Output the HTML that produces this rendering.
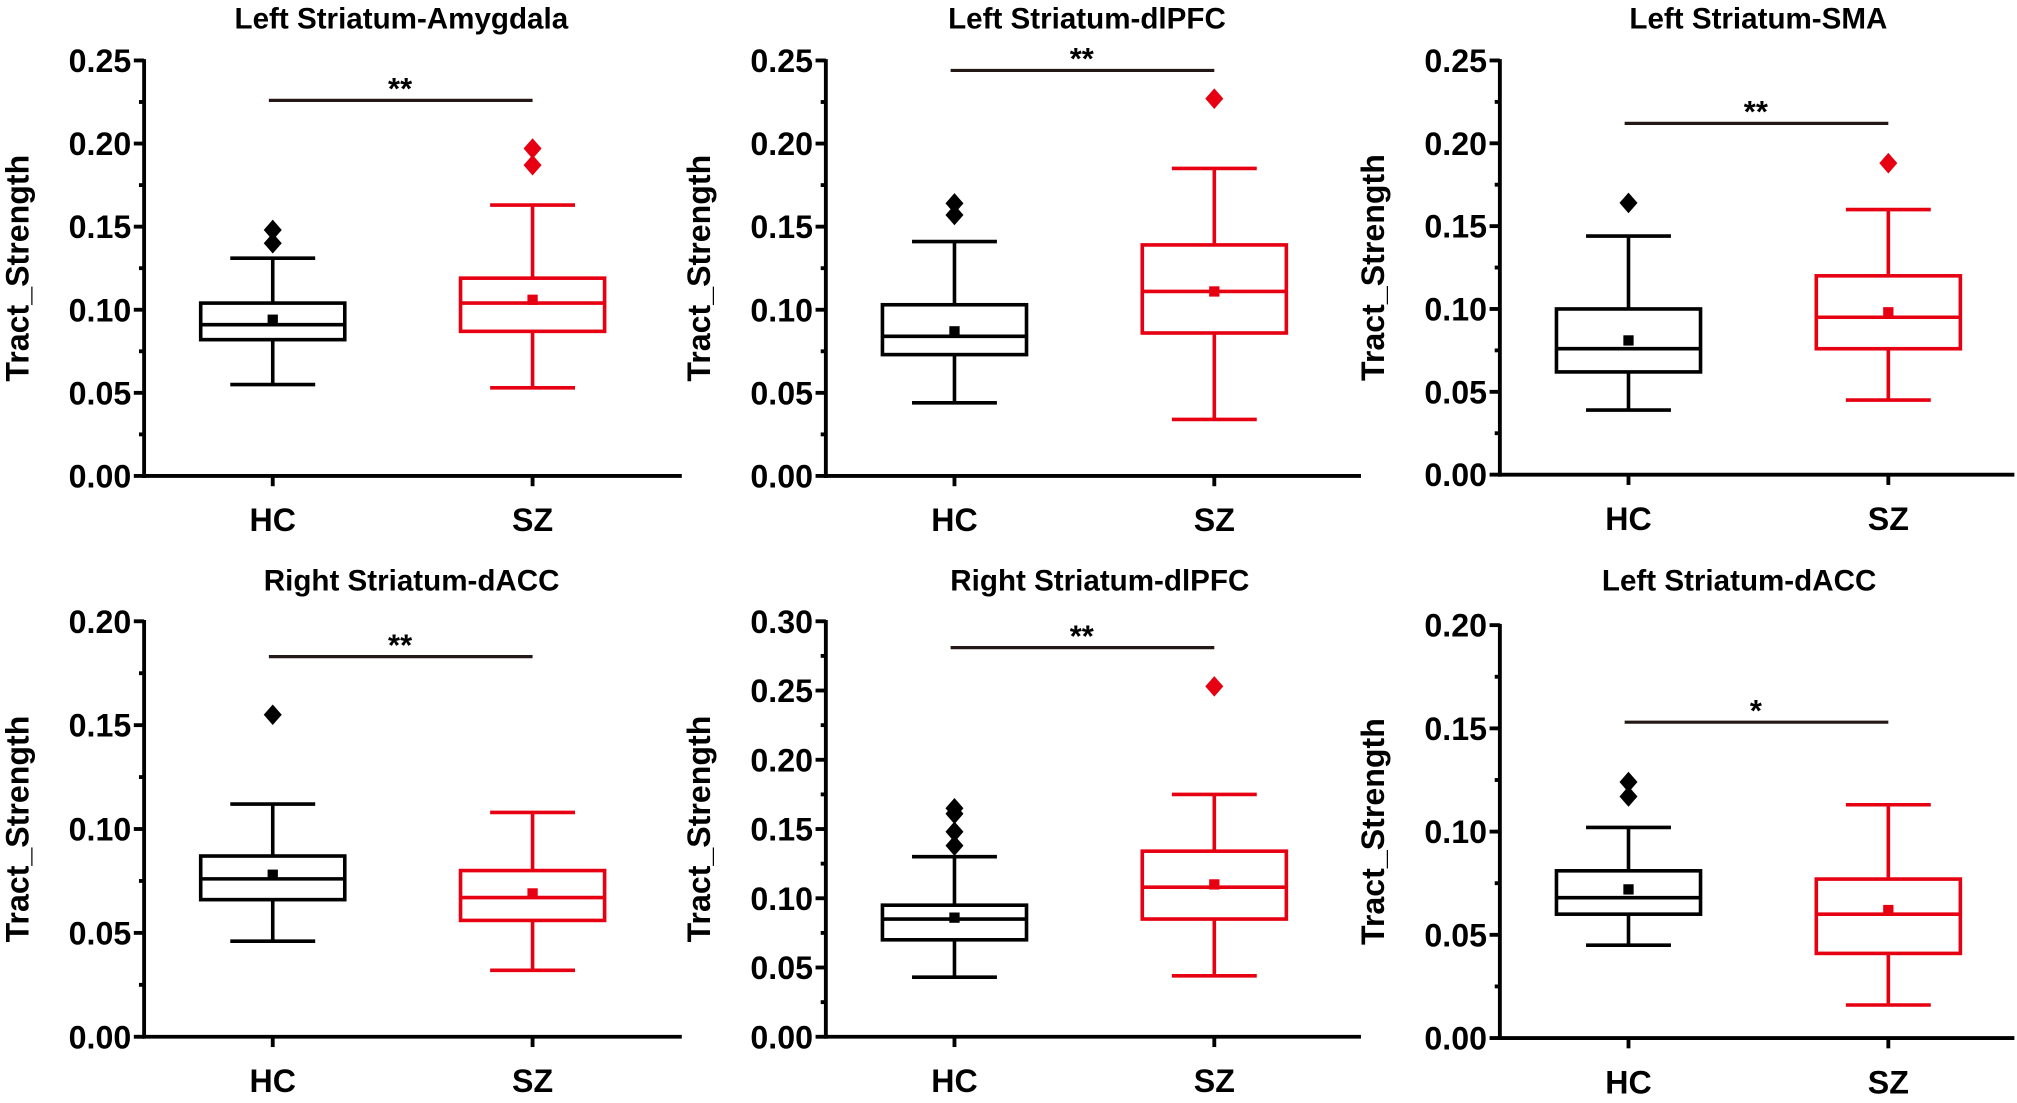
<!DOCTYPE html>
<html><head><meta charset="utf-8"><style>
html,body{margin:0;padding:0;background:#fff;}
svg{display:block;}
text{font-family:"Liberation Sans",Arial,sans-serif;font-weight:bold;fill:#000;}
</style></head><body>
<svg id="chart" width="2017" height="1103" viewBox="0 0 1568 857.5" xmlns="http://www.w3.org/2000/svg"></svg>
<script>
const titles = ["Left Striatum-Amygdala","Left Striatum-dlPFC","Left Striatum-SMA","Right Striatum-dACC","Right Striatum-dlPFC","Left Striatum-dACC"];
const categories = ["HC","SZ"];
const yMaxes = [0.25,0.25,0.25,0.20,0.30,0.20];
const yTickLabels = [
 ["0.00","0.05","0.10","0.15","0.20","0.25"],
 ["0.00","0.05","0.10","0.15","0.20","0.25"],
 ["0.00","0.05","0.10","0.15","0.20","0.25"],
 ["0.00","0.05","0.10","0.15","0.20"],
 ["0.00","0.05","0.10","0.15","0.20","0.25","0.30"],
 ["0.00","0.05","0.10","0.15","0.20"]];
// [min, q1, median, q3, max, mean]
const hcStats = [
 [0.055,0.082,0.091,0.104,0.131,0.094],
 [0.044,0.073,0.084,0.103,0.141,0.087],
 [0.039,0.062,0.076,0.100,0.144,0.081],
 [0.046,0.066,0.076,0.087,0.112,0.078],
 [0.043,0.070,0.085,0.095,0.130,0.086],
 [0.045,0.060,0.068,0.081,0.102,0.072]];
const szStats = [
 [0.053,0.087,0.104,0.119,0.163,0.106],
 [0.034,0.086,0.111,0.139,0.185,0.111],
 [0.045,0.076,0.095,0.120,0.160,0.098],
 [0.032,0.056,0.067,0.080,0.108,0.069],
 [0.044,0.085,0.108,0.134,0.175,0.110],
 [0.016,0.041,0.060,0.077,0.113,0.062]];
const hcOutliers = [[0.140,0.148],[0.157,0.164],[0.164],[0.155],[0.138,0.148,0.161,0.165],[0.117,0.124]];
const szOutliers = [[0.187,0.197],[0.227],[0.188],[],[0.253],[]];
const sigValues = [0.226,0.244,0.212,0.183,0.281,0.153];
const sigLabels = ["**","**","**","**","**","*"];

const NS="http://www.w3.org/2000/svg";
const svg=document.getElementById('chart');
function mk(tag,attrs,parent){const e=document.createElementNS(NS,tag);for(const k in attrs)e.setAttribute(k,attrs[k]);(parent||svg).appendChild(e);return e;}
const layout=[
 {ax:112,zero:370,top:47,right:530,tY:22},
 {ax:642,zero:370,top:47,right:1058,tY:22},
 {ax:1166,zero:369,top:47,right:1566,tY:22},
 {ax:112,zero:806,top:483,right:530,tY:459},
 {ax:642,zero:806,top:483,right:1058,tY:459},
 {ax:1166,zero:807,top:486,right:1566,tY:459}];
const titleCx=[312,845,1367,320,855,1352];
const colors=["#000","#e60012"];
for(let p=0;p<6;p++){
 const L=layout[p];
 const g=mk('g',{});
 
 
 const y=v=>L.zero-(v/yMaxes[p])*(L.zero-L.top);
 const xc=[L.ax+100,L.ax+302];
 const t=mk('text',{x:titleCx[p],y:L.tY,'text-anchor':'middle','font-size':23},g);
 t.textContent=titles[p];
 
 
 const yl=mk('text',{transform:`translate(${L.ax-90},${(L.zero+L.top)/2}) rotate(-90)`,'text-anchor':'middle','font-size':25},g);
 yl.textContent="Tract_Strength";
 
 
 const ya=mk('line',{x1:L.ax,y1:L.top-1,x2:L.ax,y2:L.zero+1.5,stroke:'#000','stroke-width':3},g);
 
 
 const xa=mk('line',{x1:L.ax-1.5,y1:L.zero,x2:L.right,y2:L.zero,stroke:'#000','stroke-width':3},g);
 
 
 const labs=yTickLabels[p];
 const step=yMaxes[p]/(labs.length-1);
 labs.forEach((lab,i)=>{
  const yy=y(i*step);
  mk('line',{x1:L.ax-8,y1:yy,x2:L.ax,y2:yy,stroke:'#000','stroke-width':3},g);
  const tt=mk('text',{x:L.ax-10,y:yy+9,'text-anchor':'end','font-size':25},g);
  tt.textContent=lab;
  
  
  if(i<labs.length-1){const ym=y((i+0.5)*step);mk('line',{x1:L.ax-4,y1:ym,x2:L.ax,y2:ym,stroke:'#000','stroke-width':3},g);}
 });
 categories.forEach((c,ci)=>{
  mk('line',{x1:xc[ci],y1:L.zero,x2:xc[ci],y2:L.zero+8,stroke:'#000','stroke-width':3},g);
  const ct=mk('text',{x:xc[ci],y:L.zero+43,'text-anchor':'middle','font-size':25},g);
  ct.textContent=c;
  
  
  const s=(ci==0?hcStats:szStats)[p];
  const col=colors[ci];
  const bg=mk('g',{stroke:col,'stroke-width':2.8,fill:'none'},g);
  
  
  const x=xc[ci];
  mk('line',{x1:x,y1:y(s[0]),x2:x,y2:y(s[1])},bg);
  mk('line',{x1:x,y1:y(s[3]),x2:x,y2:y(s[4])},bg);
  mk('line',{x1:x-33,y1:y(s[0]),x2:x+33,y2:y(s[0])},bg);
  mk('line',{x1:x-33,y1:y(s[4]),x2:x+33,y2:y(s[4])},bg);
  mk('rect',{x:x-56,y:y(s[3]),width:112,height:y(s[1])-y(s[3])},bg);
  mk('line',{x1:x-56,y1:y(s[2]),x2:x+56,y2:y(s[2])},bg);
  const m=mk('rect',{x:x-4,y:y(s[5])-4,width:8,height:8,fill:col,stroke:'none'},g);
  
  
  (ci==0?hcOutliers:szOutliers)[p].forEach(v=>{
   const yy=y(v);
   const d=mk('polygon',{points:`${x},${yy-8} ${x+7},${yy} ${x},${yy+8} ${x-7},${yy}`,fill:ci==0?'#000':'#e60012'},g);
   
   
  });
 });
 const sy=y(sigValues[p]);
 const sl=mk('line',{x1:xc[0]-3,y1:sy,x2:xc[1],y2:sy,stroke:'#231815','stroke-width':2.5},g);
 
 
 const st=mk('text',{x:(xc[0]+xc[1])/2-2,y:sy-1,'text-anchor':'middle','font-size':24},g);
 st.textContent=sigLabels[p];
 
 
}
</script>
</body></html>
